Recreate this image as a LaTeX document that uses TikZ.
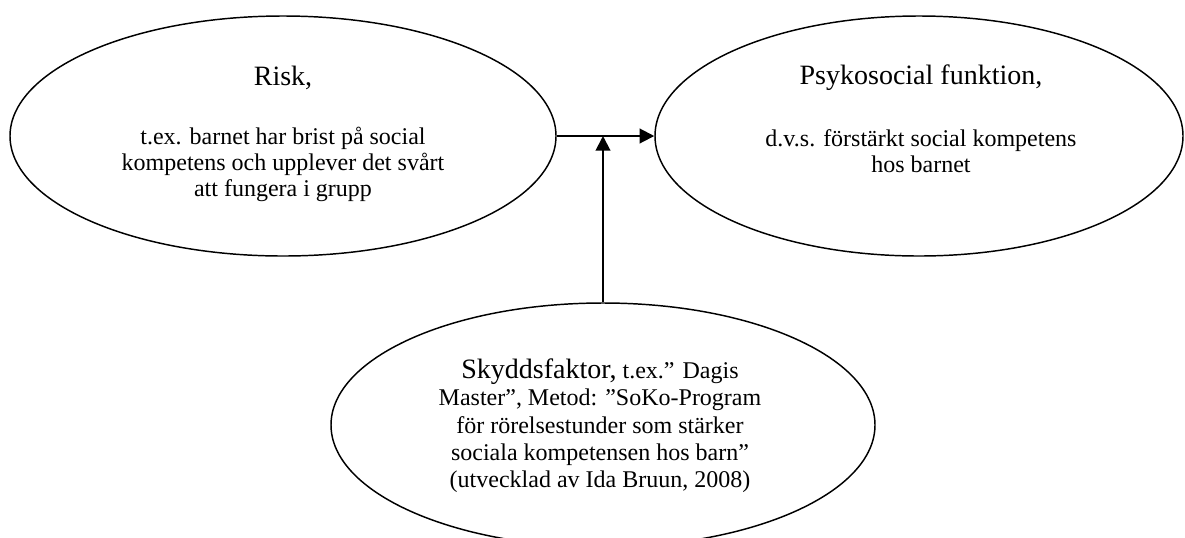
\documentclass[tikz,border=0pt]{standalone}
\usepackage{fontspec}
\setmainfont{Liberation Serif}
\usetikzlibrary{shapes.geometric}
\usetikzlibrary{arrows.meta}
\tikzset{>={Triangle[width=11pt,length=11pt]}}
\tikzset{oval/.style={draw, ellipse, line width=1.1pt, inner sep=0pt}}
\tikzset{head/.style={font=\fontsize{21}{24}\selectfont}}
\tikzset{body/.style={align=center, font=\fontsize{18}{19.5}\selectfont}}

\begin{document}
\begin{tikzpicture}[x=0.75pt,y=-0.75pt]

  \useasboundingbox (0,0) rectangle (1185,537);

  %% the three ovals
  \node[oval, minimum width=409.5pt, minimum height=180pt] (risk) at (283,136) {};
  \node[oval, minimum width=396pt, minimum height=180pt] (psyk) at (919,136) {};
  \node[oval, minimum width=408pt, minimum height=183pt] (skydd) at (603,425) {};

  %% texts
  \node[head] (risktitle) at (283,78) {Risk,};
  \node[body] (risktext) at (283,164)
  {t.ex. barnet har brist på social\\kompetens och upplever det svårt\\att fungera i grupp};

  \node[head] (psyktitle) at (921,78) {Psykosocial funktion,};
  \node[body] (psyktext) at (921,151)
  {d.v.s. förstärkt social kompetens\\hos barnet};

  \node[body, font=\fontsize{18}{20.5}\selectfont] (skyddtext) at (600,426)
  {{\fontsize{21}{24}\selectfont Skyddsfaktor,} t.ex.” Dagis\\
   Master”, Metod: ”SoKo-Program\\för rörelsestunder som stärker\\
   sociala kompetensen hos barn”\\(utvecklad av Ida Bruun, 2008)};

  %% arrows
  \coordinate (meet) at (skydd.north |- risk.east);
  \draw[->, line width=1.5pt] (risk.east) -- (psyk.west); %% risk -> funktion
  \draw[->, line width=1.5pt] (skydd.north) -- (meet); %% skydd -> line

\end{tikzpicture}
\end{document}
